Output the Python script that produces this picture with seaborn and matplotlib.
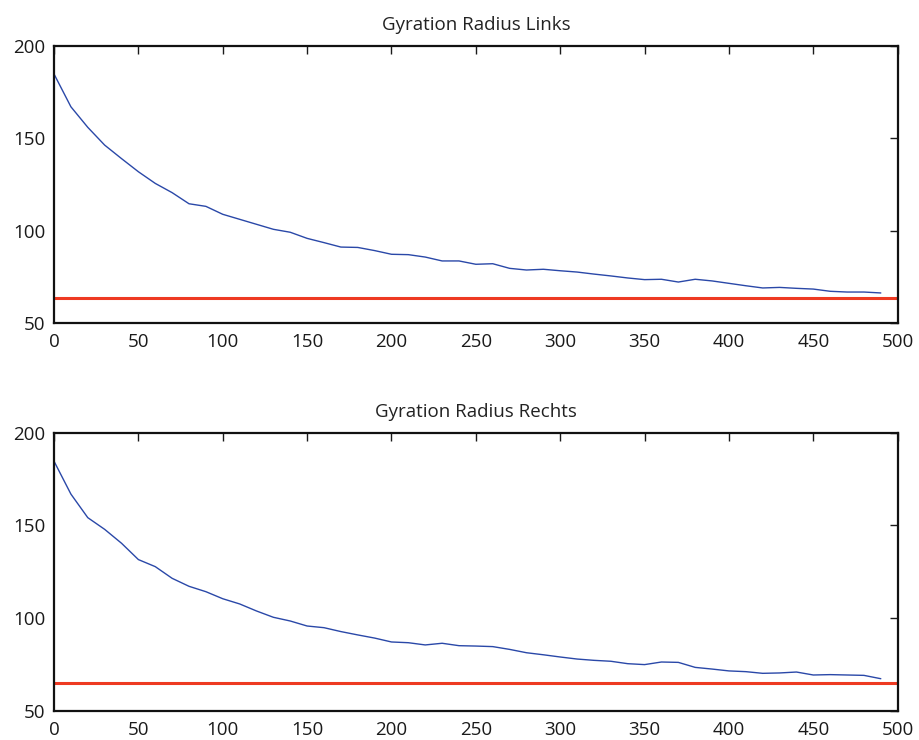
import numpy as np
import pandas as pd
import matplotlib
matplotlib.use("Agg")
import matplotlib.pyplot as plt
import seaborn as sns

# ---- data ----
steps = list(range(0, 500, 10))
links = [184.7, 167.0, 155.9, 146.3, 139.0, 131.9, 125.6, 120.6, 114.6, 113.2,
         108.9, 106.2, 103.5, 100.8, 99.2, 95.9, 93.6, 91.2, 91.0, 89.3,
         87.3, 87.1, 85.8, 83.7, 83.7, 81.9, 82.2, 79.7, 78.8, 79.2,
         78.4, 77.7, 76.6, 75.6, 74.5, 73.6, 73.8, 72.3, 73.8, 72.9,
         71.6, 70.3, 69.1, 69.4, 68.9, 68.5, 67.3, 66.9, 66.9, 66.4]
rechts = [184.6, 166.9, 154.2, 147.9, 140.4, 131.6, 127.8, 121.5, 117.2, 114.3,
          110.5, 107.7, 103.9, 100.5, 98.5, 95.8, 94.9, 92.8, 91.0, 89.3,
          87.2, 86.8, 85.6, 86.5, 85.2, 85.0, 84.7, 83.2, 81.4, 80.3,
          79.1, 78.0, 77.3, 76.8, 75.5, 75.0, 76.4, 76.2, 73.5, 72.6,
          71.6, 71.2, 70.3, 70.5, 71.0, 69.4, 69.6, 69.4, 69.2, 67.4]
target_links = 63.5
target_rechts = 65.1
titles = ["Gyration Radius Links", "Gyration Radius Rechts"]
xticks = [0, 50, 100, 150, 200, 250, 300, 350, 400, 450, 500]
yticks = [50, 100, 150, 200]

sns.set_theme(style="white")
plt.rcParams['font.family'] = ['Open Sans', 'DejaVu Sans']

fig = plt.figure(figsize=(9.19, 7.40), dpi=100)
positions = [[0.0588, 0.5631, 0.9180, 0.3751],
             [0.0588, 0.0392, 0.9180, 0.3761]]

for pos, series, target, title in zip(positions, [links, rechts],
                                      [target_links, target_rechts], titles):
    ax = fig.add_axes(pos)
    df = pd.DataFrame({"step": steps, "value": series})
    sns.lineplot(data=df, x="step", y="value", ax=ax, color="#2a48a8",
                 linewidth=1.0)
    ax.axhline(target, color="#ee3a22", linewidth=2.2)
    ax.set_xlim(0, 500)
    ax.set_ylim(50, 200)
    ax.set_xticks(xticks)
    ax.set_yticks(yticks)
    ax.set_xlabel("")
    ax.set_ylabel("")
    ax.set_title(title, fontsize=13.5, color="#222222", pad=11)
    ax.tick_params(direction="in", length=6, width=1, top=True, right=True,
                   labelsize=13.5, colors="#1a1a1a")
    ax.tick_params(axis="x", pad=7)
    ax.tick_params(axis="y", pad=6)
    for s in ax.spines.values():
        s.set_visible(True)
        s.set_color("#111111")
        s.set_linewidth(1.6)
    ax.grid(False)

fig.savefig("out.png", dpi=100, facecolor="white")
